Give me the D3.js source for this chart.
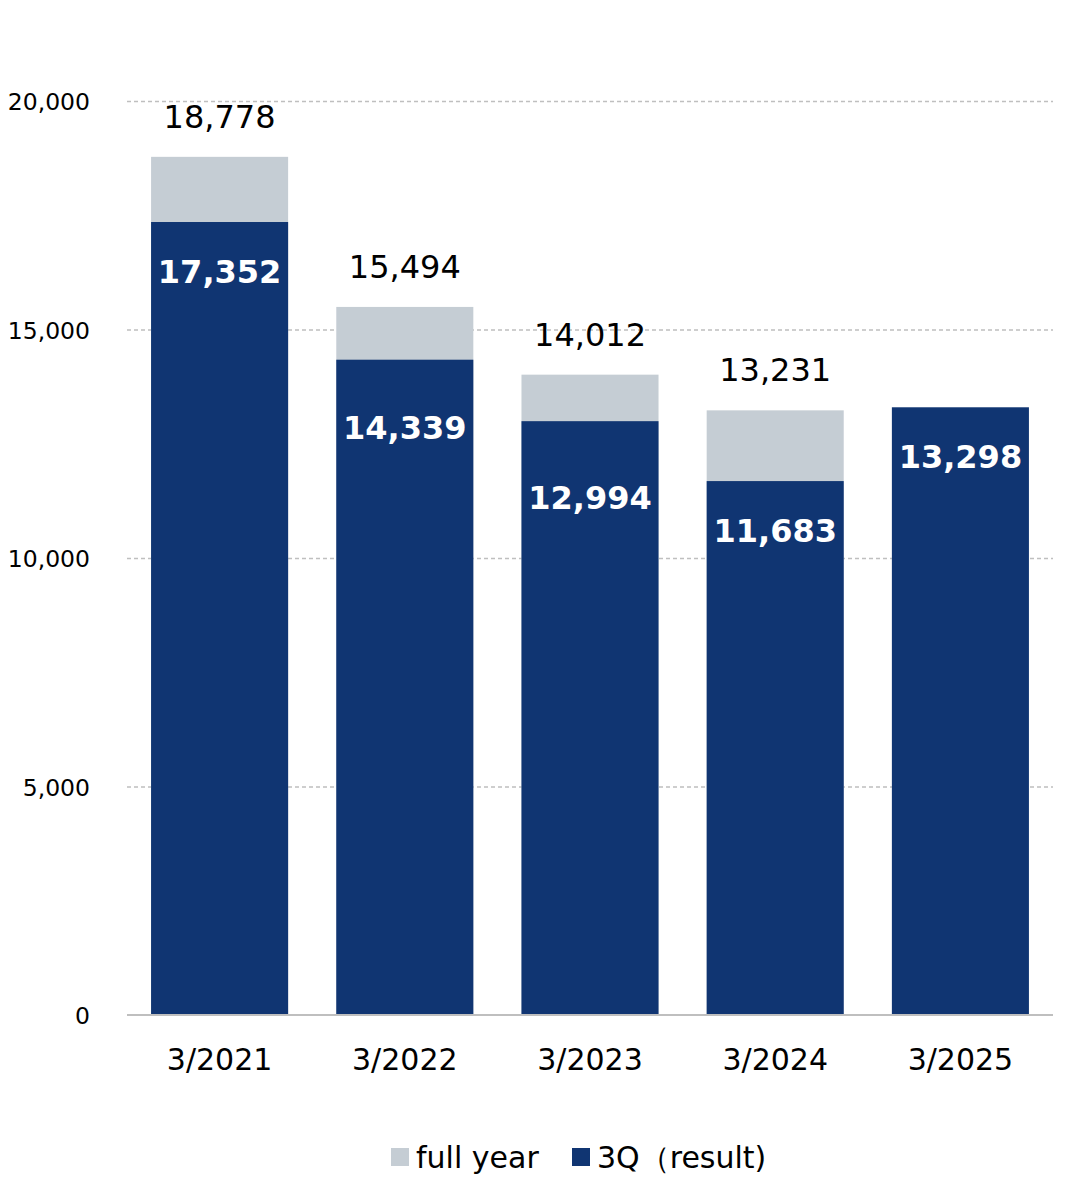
<!DOCTYPE html>
<html>
<head>
<meta charset="utf-8">
<script src="https://cdn.jsdelivr.net/npm/d3@7"></script>
<style>
  html, body { margin: 0; padding: 0; background: #ffffff; }
  svg { display: block; font-family: "DejaVu Sans", Verdana, sans-serif; }
</style>
</head>
<body>
<svg id="chart" width="1080" height="1189"></svg>
<script>
const categories = ["3/2021", "3/2022", "3/2023", "3/2024", "3/2025"];
const fullYear = [18778, 15494, 14012, 13231, null];
const q3Result = [17352, 14339, 12994, 11683, 13298];
const yTicks = [0, 5000, 10000, 15000, 20000];
const legendLabels = ["full year", "3Q（result)"];

// layout-only: vertical offsets of the inner labels (as placed in the original)
const innerLabelDy = [61, 79, 88, 61, 61];

const colorFull = "#c5cdd4";
const colorQ3 = "#103572";

const svg = d3.select("#chart");
const margin = { left: 127, right: 1053, top: 101, bottom: 1015 };

const x = d3.scaleBand()
  .domain(categories)
  .range([margin.left, margin.right])
  .paddingInner(0.26)
  .paddingOuter(0.13);

const y = d3.scaleLinear()
  .domain([0, 20000])
  .range([margin.bottom, margin.top]);

const fmt = d3.format(",");

// gridlines
svg.append("g")
  .selectAll("line")
  .data(yTicks.filter(d => d > 0))
  .join("line")
  .attr("x1", margin.left)
  .attr("x2", margin.right)
  .attr("y1", d => y(d) + 0.5)
  .attr("y2", d => y(d) + 0.5)
  .attr("stroke", "#bfbfbf")
  .attr("stroke-width", 1.3)
  .attr("stroke-dasharray", "4,3");

// y axis labels
const yAxis = d3.axisLeft(y).tickValues(yTicks).tickFormat(fmt).tickSize(0).tickPadding(0);
const yg = svg.append("g").attr("transform", `translate(90,0)`).call(yAxis);
yg.select(".domain").remove();
yg.selectAll("text")
  .attr("font-size", 23.5)
  .attr("fill", "#000")
  .attr("font-family", "DejaVu Sans, Verdana, sans-serif")
  .attr("dy", "0.38em");

const data = categories.map((c, i) => ({ c, full: fullYear[i], q3: q3Result[i], dy: innerLabelDy[i] }));

// full-year bars
svg.append("g")
  .selectAll("rect")
  .data(data.filter(d => d.full != null))
  .join("rect")
  .attr("x", d => x(d.c))
  .attr("width", x.bandwidth())
  .attr("y", d => y(d.full))
  .attr("height", d => y(0) - y(d.full))
  .attr("fill", colorFull);

// 3Q bars
svg.append("g")
  .selectAll("rect")
  .data(data)
  .join("rect")
  .attr("x", d => x(d.c))
  .attr("width", x.bandwidth())
  .attr("y", d => y(d.q3))
  .attr("height", d => y(0) - y(d.q3))
  .attr("fill", colorQ3);

// baseline axis
const xAxis = d3.axisBottom(x).tickSize(0).tickPadding(0);
const xg = svg.append("g").attr("transform", `translate(0,${y(0)})`).call(xAxis);
xg.select(".domain").attr("stroke", "#bfbfbf").attr("stroke-width", 2)
  .attr("d", `M${margin.left},0H${margin.right}`);
xg.selectAll("text")
  .attr("font-size", 30)
  .attr("fill", "#000")
  .attr("font-family", "DejaVu Sans, Verdana, sans-serif")
  .attr("y", 0)
  .attr("dy", 0)
  .attr("transform", "translate(0,55)");

// full-year value labels
svg.append("g")
  .selectAll("text")
  .data(data.filter(d => d.full != null))
  .join("text")
  .attr("x", d => x(d.c) + x.bandwidth() / 2)
  .attr("y", d => y(d.full) - 29)
  .attr("text-anchor", "middle")
  .attr("font-size", 32)
  .attr("fill", "#000")
  .text(d => fmt(d.full));

// 3Q value labels
svg.append("g")
  .selectAll("text")
  .data(data)
  .join("text")
  .attr("x", d => x(d.c) + x.bandwidth() / 2)
  .attr("y", d => y(d.q3) + d.dy)
  .attr("text-anchor", "middle")
  .attr("font-size", 32)
  .attr("font-weight", "bold")
  .attr("fill", "#fff")
  .text(d => fmt(d.q3));

// legend
const legend = svg.append("g");
const items = [
  { label: legendLabels[0], color: colorFull, x: 391 },
  { label: legendLabels[1], color: colorQ3, x: 572 }
];
items.forEach(it => {
  legend.append("rect")
    .attr("x", it.x).attr("y", 1148)
    .attr("width", 18).attr("height", 18)
    .attr("fill", it.color);
  legend.append("text")
    .attr("x", it.x + 25).attr("y", 1168)
    .attr("font-size", 30)
    .attr("fill", "#000")
    .text(it.label);
});
</script>
</body>
</html>
